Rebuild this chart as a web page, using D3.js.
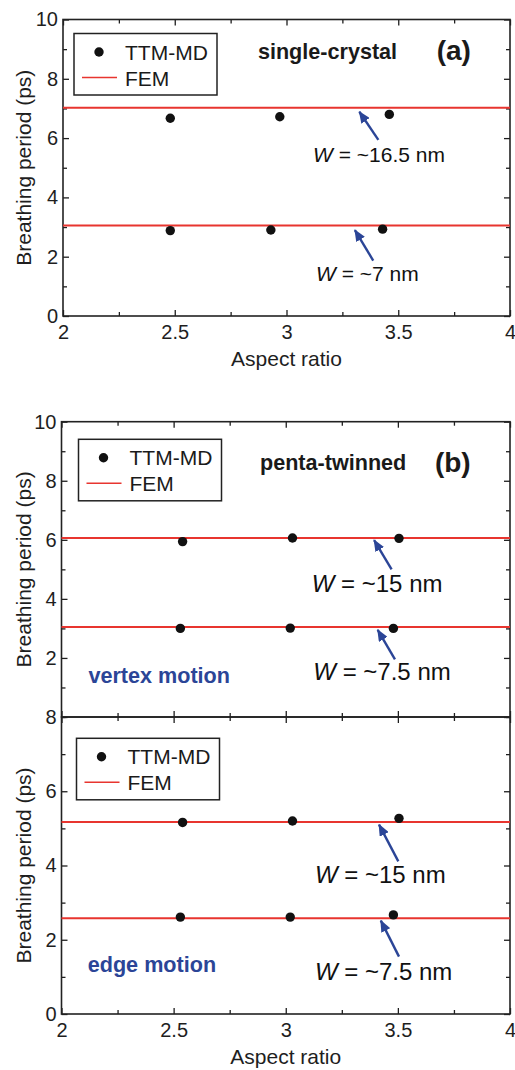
<!DOCTYPE html>
<html>
<head>
<meta charset="utf-8">
<script src="https://cdn.jsdelivr.net/npm/d3@7"></script>
<style>
  body { margin: 0; background: #fff; }
  text { font-family: "Liberation Sans", Arial, Helvetica, sans-serif; }
</style>
</head>
<body>
<div id="app"></div>
<script>
// x axis, shared by every panel
const xTickValues = [2, 2.5, 3, 3.5, 4];
const xMinorValues = [2.25, 2.75, 3.25, 3.75];

// (a) single-crystal
const scAspectBig = [2.48, 2.97, 3.46];
const scPeriodBig = [6.67, 6.72, 6.80];
const scAspectSmall = [2.48, 2.93, 3.43];
const scPeriodSmall = [2.88, 2.90, 2.93];
const scFem = [7.02, 3.05];
const scWidths = ["~16.5 nm", "~7 nm"];

// (b) penta-twinned, vertex motion
const vxAspectBig = [2.54, 3.03, 3.505];
const vxPeriodBig = [5.94, 6.06, 6.05];
const vxAspectSmall = [2.53, 3.02, 3.48];
const vxPeriodSmall = [3.0, 3.01, 3.0];
const vxFem = [6.06, 3.05];
const vxWidths = ["~15 nm", "~7.5 nm"];

// (b) penta-twinned, edge motion
const edAspectBig = [2.54, 3.03, 3.505];
const edPeriodBig = [5.16, 5.20, 5.27];
const edAspectSmall = [2.53, 3.02, 3.48];
const edPeriodSmall = [2.61, 2.61, 2.67];
const edFem = [5.17, 2.58];
const edWidths = ["~15 nm", "~7.5 nm"];

const legendLabels = ["TTM-MD", "FEM"];
const xTitle = "Aspect ratio";
const yTitle = "Breathing period (ps)";

const FONT = 20;
const RED = "#e8352f";
const BLUE = "#2b4597";

var svg = d3.select("#app")
.append("svg")
  .attr("width", 515)
  .attr("height", 1070);

svg.append("defs").append("marker")
  .attr("id", "head")
  .attr("markerUnits", "userSpaceOnUse")
  .attr("viewBox", "0 -5 12 10")
  .attr("refX", 11)
  .attr("refY", 0)
  .attr("markerWidth", 12)
  .attr("markerHeight", 10)
  .attr("orient", "auto")
.append("path")
  .attr("d", "M0,-5L12,0L0,5Z")
  .attr("fill", BLUE);

const drawPanel = o => {
  const x = d3.scaleLinear().domain([2, 4]).range([o.left, o.right]);
  const y = d3.scaleLinear().domain([0, o.yMax]).range([o.bottom, o.top]);
  const g = svg.append("g");

  const yAll = d3.range(0, o.yMax + 1);
  const yMinor = yAll.filter(v => !o.yLabels.includes(v));

  const axisPart = (axis, tx, ty, vals, size, labels) => {
    const a = g.append("g")
      .attr("transform", "translate(" + tx + "," + ty + ")")
      .call(axis.tickValues(vals).tickSize(size).tickPadding(5)
        .tickFormat(labels ? d3.format("") : ""));
    a.select(".domain").remove();
    a.attr("font-size", FONT).attr("font-family", null).attr("color", "#1e1e1e");
    a.selectAll("line").attr("stroke-width", 1.3);
    return a;
  };

  // left
  axisPart(d3.axisLeft(y), o.left, 0, o.yLabels, -6, true);
  axisPart(d3.axisLeft(y), o.left, 0, yMinor, -4, false);
  // right
  axisPart(d3.axisRight(y), o.right, 0, o.yLabels, -6, false);
  axisPart(d3.axisRight(y), o.right, 0, yMinor, -4, false);
  // top
  axisPart(d3.axisTop(x), 0, o.top, xTickValues, -6, false);
  axisPart(d3.axisTop(x), 0, o.top, xMinorValues, -4, false);
  // bottom
  const b = axisPart(d3.axisBottom(x), 0, o.bottom, xTickValues, -6, o.xLabels);
  b.selectAll("text").attr("dy", "0.9em");
  axisPart(d3.axisBottom(x), 0, o.bottom, xMinorValues, -4, false);

  g.append("rect")
    .attr("x", o.left).attr("y", o.top)
    .attr("width", o.right - o.left).attr("height", o.bottom - o.top)
    .attr("fill", "none").attr("stroke", "#222").attr("stroke-width", 1.6);

  // FEM lines
  g.selectAll(".fem")
    .data(o.fem)
    .enter()
    .append("line")
    .attr("x1", x(2)).attr("x2", x(4))
    .attr("y1", d => y(d)).attr("y2", d => y(d))
    .attr("stroke", RED).attr("stroke-width", 2);

  // TTM-MD points
  const pts = [];
  o.series.forEach(s => s[0].forEach((a, i) => pts.push({ x: a, y: s[1][i] })));
  g.selectAll(".pt")
    .data(pts)
    .enter()
    .append("circle")
    .attr("cx", d => x(d.x))
    .attr("cy", d => y(d.y))
    .attr("r", 4.7)
    .attr("fill", "#111");

  // legend
  const lx = o.left + o.legend[0], ly = o.top + o.legend[1];
  g.append("rect")
    .attr("x", lx).attr("y", ly).attr("width", 143).attr("height", 61.5)
    .attr("fill", "#fff").attr("stroke", "#222").attr("stroke-width", 1.5);
  g.append("circle").attr("cx", lx + 25).attr("cy", ly + 18.5).attr("r", 4.7).attr("fill", "#111");
  g.append("line")
    .attr("x1", lx + 8).attr("x2", lx + 43).attr("y1", ly + 44).attr("y2", ly + 44)
    .attr("stroke", RED).attr("stroke-width", 1.6);
  g.selectAll(".leg")
    .data(legendLabels)
    .enter()
    .append("text")
    .attr("x", lx + 51)
    .attr("y", (d, i) => ly + 26 + i * 26)
    .attr("font-size", 21)
    .attr("fill", "#1a1a1a")
    .text(d => d);

  // width annotations with arrows
  o.notes.forEach((n, i) => {
    g.append("line")
      .attr("x1", x(n.tail[0])).attr("y1", y(n.tail[1]))
      .attr("x2", x(n.tip[0])).attr("y2", y(n.tip[1]))
      .attr("stroke", BLUE).attr("stroke-width", 2.4)
      .attr("marker-end", "url(#head)");
    const t = g.append("text")
      .attr("x", x(n.text[0])).attr("y", y(n.text[1]))
      .attr("font-size", o.noteSize)
      .attr("fill", "#111");
    t.append("tspan").attr("font-style", "italic").text("W");
    t.append("tspan").text(" = " + o.widths[i]);
  });

  // free labels
  o.labels.forEach(l => {
    g.append("text")
      .attr("x", x(l.at[0])).attr("y", y(l.at[1]))
      .attr("font-size", l.size)
      .attr("font-weight", "bold")
      .attr("fill", l.color || "#1a1a1a")
      .text(l.text);
  });

  // axis titles
  g.append("text")
    .attr("transform", "translate(" + 31 + "," + ((o.top + o.bottom) / 2) + ") rotate(-90)")
    .attr("text-anchor", "middle")
    .attr("font-size", 21)
    .attr("fill", "#1e1e1e")
    .text(yTitle);
  if (o.xLabels) {
    g.append("text")
      .attr("x", (o.left + o.right) / 2)
      .attr("y", o.bottom + 50)
      .attr("text-anchor", "middle")
      .attr("font-size", 21)
      .attr("fill", "#1e1e1e")
      .text(xTitle);
  }
};

// (a)
drawPanel({
  left: 63, right: 510, top: 19.5, bottom: 316, yMax: 10,
  yLabels: [0, 2, 4, 6, 8, 10], xLabels: true,
  fem: scFem,
  series: [[scAspectBig, scPeriodBig], [scAspectSmall, scPeriodSmall]],
  legend: [11, 14],
  widths: scWidths, noteSize: 21,
  notes: [
    { tail: [3.411, 5.94], tip: [3.326, 6.89], text: [3.119, 5.20] },
    { tail: [3.388, 1.87], tip: [3.306, 2.90], text: [3.132, 1.18] }
  ],
  labels: [
    { text: "single-crystal", at: [2.872, 8.66], size: 21.6 },
    { text: "(a)", at: [3.672, 8.62], size: 28 }
  ]
});

// (b) vertex motion
drawPanel({
  left: 61.5, right: 510, top: 421.7, bottom: 717, yMax: 10,
  yLabels: [2, 4, 6, 8, 10], xLabels: false,
  fem: vxFem,
  series: [[vxAspectBig, vxPeriodBig], [vxAspectSmall, vxPeriodSmall]],
  legend: [17, 17.6],
  widths: vxWidths, noteSize: 24,
  notes: [
    { tail: [3.472, 5.0], tip: [3.394, 5.99], text: [3.116, 4.24] },
    { tail: [3.487, 1.95], tip: [3.41, 2.95], text: [3.123, 1.25] }
  ],
  labels: [
    { text: "penta-twinned", at: [2.885, 8.36], size: 21.6 },
    { text: "(b)", at: [3.665, 8.30], size: 28 },
    { text: "vertex motion", at: [2.12, 1.14], size: 21.6, color: BLUE }
  ]
});

// (b) edge motion
drawPanel({
  left: 61.5, right: 510, top: 717, bottom: 1014, yMax: 8,
  yLabels: [0, 2, 4, 6, 8], xLabels: true,
  fem: edFem,
  series: [[edAspectBig, edPeriodBig], [edAspectSmall, edPeriodSmall]],
  legend: [15, 21.3],
  widths: edWidths, noteSize: 24,
  notes: [
    { tail: [3.502, 4.11], tip: [3.416, 5.10], text: [3.13, 3.54] },
    { tail: [3.505, 1.545], tip: [3.424, 2.515], text: [3.13, 0.917] }
  ],
  labels: [
    { text: "edge motion", at: [2.117, 1.14], size: 21.6, color: BLUE }
  ]
});
</script>
</body>
</html>
